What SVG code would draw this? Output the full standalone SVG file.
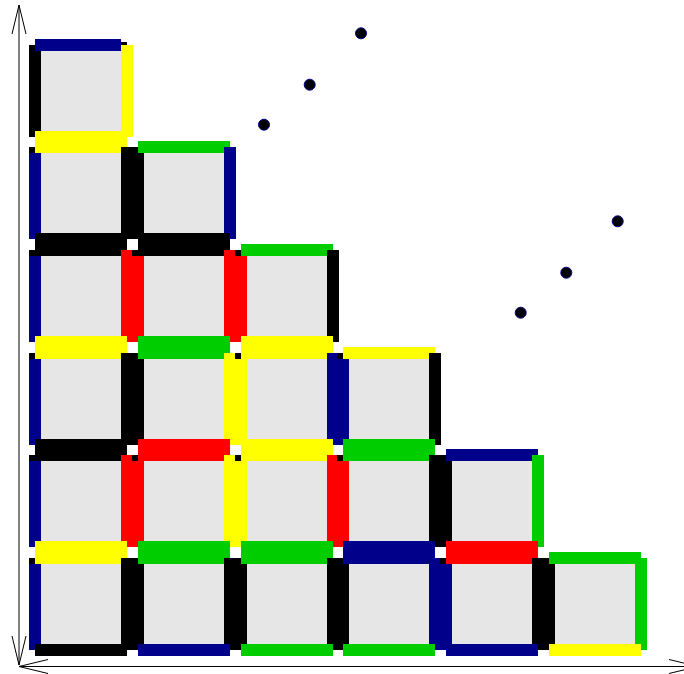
<svg xmlns="http://www.w3.org/2000/svg" width="684" height="674" viewBox="0 0 684 674">
<style>
.k{fill:#000}
.b{fill:#00008b}
.y{fill:#ffff00}
.r{fill:#ff0000}
.g{fill:#00cd00}
.f{fill:#e6e6e6;stroke:#d6d6d6;stroke-width:1}
.ax{fill:none;stroke:#000;stroke-width:1}
.pt{fill:#000;stroke:#00008b;stroke-width:1}
</style>
<defs>
<marker id="v" markerUnits="userSpaceOnUse" markerWidth="30" markerHeight="16" viewBox="0 0 30 16" refX="29" refY="8" orient="auto-start-reverse" overflow="visible">
<path d="M0,1 L29,8 L0,15" fill="none" stroke="#000" stroke-width="1"/>
</marker>
<rect id="u" x="0" y="6" width="104" height="92"/>
<rect id="fi" x="6.5" y="6.5" width="91" height="91"/>
<rect id="T" x="6" y="0" width="92" height="12"/>
<rect id="L" x="0" y="12" width="12" height="86"/>
<rect id="R" x="92" y="6" width="12" height="92"/>
<rect id="B" x="6" y="92" width="92" height="12"/>
</defs>

<g id="connectors">
<line class="ax" x1="19" y1="5" x2="19" y2="665" marker-start="url(#v)" marker-end="url(#v)"/>
<line class="ax" x1="19" y1="666.5" x2="698" y2="666.5" marker-start="url(#v)" marker-end="url(#v)"/>
</g>

<g id="cell-r0c0" transform="translate(29,39)">
<use href="#u" class="k"/><use href="#fi" class="f"/>
<rect x="92" y="3" width="6" height="4" class="k"/>
<rect x="6" y="0" width="86" height="12" class="b"/>
<use href="#L" class="k"/><use href="#R" class="y"/><use href="#B" class="y"/>
</g>

<g id="cell-r1c0" transform="translate(29,141)">
<use href="#u" class="k"/><use href="#fi" class="f"/>
<use href="#T" class="y"/><use href="#L" class="b"/><use href="#R" class="k"/><use href="#B" class="k"/>
</g>
<g id="cell-r1c1" transform="translate(132,141)">
<use href="#u" class="k"/><use href="#fi" class="f"/>
<use href="#T" class="g"/><use href="#L" class="k"/><use href="#R" class="b"/><use href="#B" class="k"/>
</g>

<g id="cell-r2c0" transform="translate(29,244)">
<use href="#u" class="k"/><use href="#fi" class="f"/>
<use href="#T" class="k"/><use href="#L" class="b"/><use href="#R" class="r"/><use href="#B" class="y"/>
</g>
<g id="cell-r2c1" transform="translate(132,244)">
<use href="#u" class="k"/><use href="#fi" class="f"/>
<use href="#T" class="k"/><use href="#L" class="r"/><use href="#R" class="r"/><use href="#B" class="g"/>
</g>
<g id="cell-r2c2" transform="translate(235,244)">
<use href="#u" class="k"/><use href="#fi" class="f"/>
<use href="#T" class="g"/><use href="#L" class="r"/><use href="#R" class="k"/><use href="#B" class="y"/>
</g>

<g id="cell-r3c0" transform="translate(29,347)">
<use href="#u" class="k"/><use href="#fi" class="f"/>
<use href="#T" class="y"/><use href="#L" class="b"/><use href="#R" class="k"/><use href="#B" class="k"/>
</g>
<g id="cell-r3c1" transform="translate(132,347)">
<use href="#u" class="k"/><use href="#fi" class="f"/>
<use href="#T" class="g"/><use href="#L" class="k"/><use href="#R" class="y"/><use href="#B" class="r"/>
</g>
<g id="cell-r3c2" transform="translate(235,347)">
<use href="#u" class="k"/><use href="#fi" class="f"/>
<use href="#T" class="y"/><use href="#L" class="y"/><use href="#R" class="b"/><use href="#B" class="y"/>
</g>
<g id="cell-r3c3" transform="translate(337,347)">
<use href="#u" class="k"/><use href="#fi" class="f"/>
<use href="#T" class="y"/><use href="#L" class="b"/><use href="#R" class="k"/><use href="#B" class="g"/>
</g>

<g id="cell-r4c0" transform="translate(29,449)">
<use href="#u" class="k"/><use href="#fi" class="f"/>
<use href="#T" class="k"/><use href="#L" class="b"/><use href="#R" class="r"/><use href="#B" class="y"/>
</g>
<g id="cell-r4c1" transform="translate(132,449)">
<use href="#u" class="k"/><use href="#fi" class="f"/>
<use href="#T" class="r"/><use href="#L" class="r"/><use href="#R" class="y"/><use href="#B" class="g"/>
</g>
<g id="cell-r4c2" transform="translate(235,449)">
<use href="#u" class="k"/><use href="#fi" class="f"/>
<use href="#T" class="y"/><use href="#L" class="y"/><use href="#R" class="r"/><use href="#B" class="g"/>
</g>
<g id="cell-r4c3" transform="translate(337,449)">
<use href="#u" class="k"/><use href="#fi" class="f"/>
<use href="#T" class="g"/><use href="#L" class="r"/><use href="#R" class="k"/><use href="#B" class="b"/>
</g>
<g id="cell-r4c4" transform="translate(440,449)">
<use href="#u" class="k"/><use href="#fi" class="f"/>
<use href="#T" class="b"/><use href="#L" class="k"/><use href="#R" class="g"/><use href="#B" class="r"/>
</g>

<g id="cell-r5c0" transform="translate(29,552)">
<use href="#u" class="k"/><use href="#fi" class="f"/>
<use href="#T" class="y"/><use href="#L" class="b"/><use href="#R" class="k"/><use href="#B" class="k"/>
</g>
<g id="cell-r5c1" transform="translate(132,552)">
<use href="#u" class="k"/><use href="#fi" class="f"/>
<use href="#T" class="g"/><use href="#L" class="k"/><use href="#R" class="k"/><use href="#B" class="b"/>
</g>
<g id="cell-r5c2" transform="translate(235,552)">
<use href="#u" class="k"/><use href="#fi" class="f"/>
<use href="#T" class="g"/><use href="#L" class="k"/><use href="#R" class="k"/><use href="#B" class="g"/>
</g>
<g id="cell-r5c3" transform="translate(337,552)">
<use href="#u" class="k"/><use href="#fi" class="f"/>
<use href="#T" class="b"/><use href="#L" class="k"/><use href="#R" class="b"/><use href="#B" class="g"/>
</g>
<g id="cell-r5c4" transform="translate(440,552)">
<use href="#u" class="k"/><use href="#fi" class="f"/>
<use href="#T" class="r"/><use href="#L" class="b"/><use href="#R" class="k"/><use href="#B" class="b"/>
</g>
<g id="cell-r5c5" transform="translate(543,552)">
<use href="#u" class="k"/><use href="#fi" class="f"/>
<use href="#T" class="g"/><use href="#L" class="k"/><use href="#R" class="g"/><use href="#B" class="y"/>
</g>

<g id="points">
<circle class="pt" cx="361" cy="33.3" r="5.5"/>
<circle class="pt" cx="309.7" cy="84.7" r="5.5"/>
<circle class="pt" cx="264" cy="124.7" r="5.5"/>
<circle class="pt" cx="617.7" cy="221.3" r="5.5"/>
<circle class="pt" cx="566.3" cy="272.7" r="5.5"/>
<circle class="pt" cx="520.7" cy="312.7" r="5.5"/>
</g>
</svg>
